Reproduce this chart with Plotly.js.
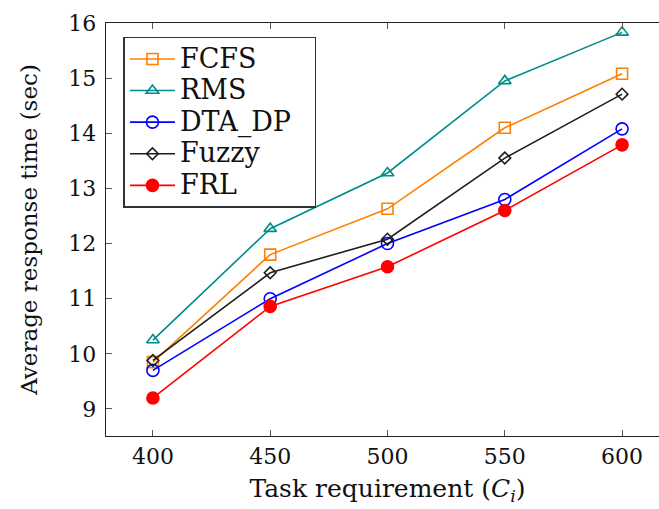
<!DOCTYPE html>
<html><head><meta charset="utf-8">
<script src="https://cdn.plot.ly/plotly-3.0.1.min.js"></script>
<style>html,body{margin:0;padding:0;overflow:hidden;background:#fff;}</style>
</head><body>
<div id="chart"></div>
<script>
const tasks = [400, 450, 500, 550, 600];
const fcfs  = [9.85, 11.80, 12.63, 14.10, 15.08];
const rms   = [10.25, 12.27, 13.28, 14.95, 15.83];
const dtaDp = [9.70, 11.00, 12.00, 12.80, 14.08];
const fuzzy = [9.88, 11.47, 12.08, 13.55, 14.71];
const frl   = [9.20, 10.86, 11.58, 12.60, 13.79];
const seriesNames = ['FCFS', 'RMS', 'DTA_DP', 'Fuzzy', 'FRL'];
const xTicks = [400, 450, 500, 550, 600];
const yTicks = [9, 10, 11, 12, 13, 14, 15, 16];

const styles = [
  {color: 'rgb(255,128,0)', symbol: 'square-open', size: 11},
  {color: 'rgb(0,140,140)', symbol: 'triangle-up-open', size: 11},
  {color: 'rgb(0,0,255)', symbol: 'circle-open', size: 12},
  {color: 'rgb(30,30,30)', symbol: 'diamond-open', size: 9},
  {color: 'rgb(255,0,0)', symbol: 'circle', size: 12}
];
const values = [fcfs, rms, dtaDp, fuzzy, frl];
const traces = values.map((v, i) => ({
  x: tasks, y: v, type: 'scatter', mode: 'lines+markers',
  name: '<span style="font-size:27px">' + seriesNames[i] + '\u2002\u2009</span>',
  line: {color: styles[i].color, width: 1.6},
  marker: {symbol: styles[i].symbol, size: styles[i].size, color: styles[i].color,
           line: {color: styles[i].color, width: 1.6}}
}));

const serif = 'DejaVu Serif';
const layout = {
  width: 670, height: 509,
  margin: {l: 106, r: 1, t: 23, b: 73},
  paper_bgcolor: '#fff', plot_bgcolor: '#fff',
  font: {family: serif, color: '#111', size: 22},
  showlegend: true,
  legend: {x: 0.031, y: 0.967, xanchor: 'left', yanchor: 'top',
           bordercolor: '#333', borderwidth: 1.5, bgcolor: '#fff', itemwidth: 45,
           font: {family: serif, size: 22, color: '#111'}, tracegroupgap: 0},
  xaxis: {range: [380, 620], tickvals: xTicks, ticktext: xTicks.map(String),
          ticks: 'inside', ticklen: 6, tickcolor: '#555', showline: true, linecolor: '#222', linewidth: 1.3,
          mirror: 'ticks', showgrid: false, zeroline: false,
          tickfont: {family: serif, size: 22, color: '#111'},
          title: {text: 'Task requirement (<i>C</i><sub><i>i</i></sub>)', standoff: 11,
                  font: {family: serif, size: 25, color: '#111'}}},
  yaxis: {range: [8.51, 16.0], tickvals: yTicks, ticktext: yTicks.map(String),
          ticks: 'inside', ticklen: 6, tickcolor: '#555', showline: true, linecolor: '#222', linewidth: 1.3,
          mirror: 'ticks', showgrid: false, zeroline: false, ticklabelstandoff: 4,
          tickfont: {family: serif, size: 22, color: '#111'},
          title: {text: 'Average response time (sec)', standoff: 24,
                  font: {family: serif, size: 23, color: '#111'}}}
};
Plotly.newPlot('chart', traces, layout, {displayModeBar: false, staticPlot: true});
</script>
</body></html>
